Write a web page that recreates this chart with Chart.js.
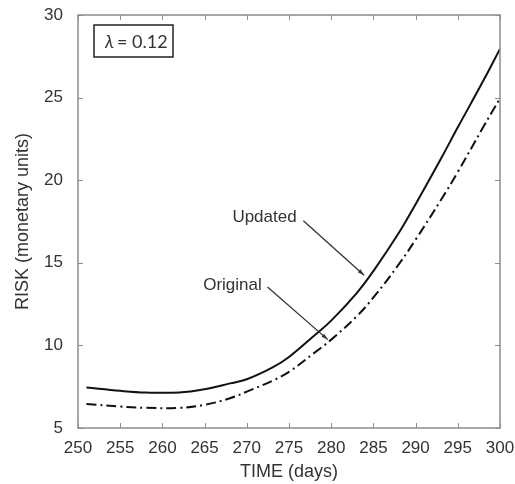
<!DOCTYPE html>
<html>
<head>
<meta charset="utf-8">
<script src="https://cdn.jsdelivr.net/npm/chart.js@4"></script>
<style>
  html, body { margin: 0; padding: 0; background: #fff; }
  #wrap { width: 515px; height: 484px; }
</style>
</head>
<body>
<div id="wrap"><canvas id="chart" width="515" height="484"></canvas></div>
<script>
const days = [251, 255, 258, 262, 265, 268, 270, 273, 275, 278, 280, 283, 285, 288, 290, 293, 295, 298, 300];
// Risk values (monetary units)
const updatedRisk = [7.45, 7.25, 7.15, 7.15, 7.35, 7.7, 7.95, 8.65, 9.3, 10.6, 11.5, 13.15, 14.5, 16.8, 18.55, 21.3, 23.2, 26.0, 27.95];
const originalRisk = [6.45, 6.3, 6.22, 6.22, 6.4, 6.8, 7.2, 7.85, 8.4, 9.55, 10.35, 11.75, 12.9, 14.9, 16.4, 18.8, 20.5, 23.2, 24.95];

const xTicks = [250, 255, 260, 265, 270, 275, 280, 285, 290, 295, 300];
const yTicks = [5, 10, 15, 20, 25, 30];

// Text labels with their pointer lines, in data units
const callouts = [
  { text: 'Updated', at: [272.1, 17.75], from: [276.7, 17.55], to: [283.9, 14.25] },
  { text: 'Original', at: [268.3, 13.66], from: [272.45, 13.54], to: [279.6, 10.35] }
];

const toPoints = (xs, ys) => xs.map((x, i) => ({ x: x, y: ys[i] }));

const axisColor = '#8c8c8c';
const textColor = '#333';
const font = '"Liberation Sans", Arial, sans-serif';

// frame, inward ticks, lambda box and callouts
const decorations = {
  id: 'decorations',
  afterDraw(chart) {
    const ctx = chart.ctx;
    const area = chart.chartArea;
    const xs = chart.scales.x;
    const ys = chart.scales.y;
    ctx.save();

    ctx.strokeStyle = axisColor;
    ctx.lineWidth = 1.5;
    ctx.strokeRect(area.left, area.top, area.right - area.left, area.bottom - area.top);

    ctx.lineWidth = 1;
    const tl = 5;
    ctx.beginPath();
    xTicks.forEach(v => {
      const px = Math.round(xs.getPixelForValue(v)) + 0.5;
      ctx.moveTo(px, area.bottom); ctx.lineTo(px, area.bottom - tl);
      ctx.moveTo(px, area.top); ctx.lineTo(px, area.top + tl);
    });
    yTicks.forEach(v => {
      const py = Math.round(ys.getPixelForValue(v)) + 0.5;
      ctx.moveTo(area.left, py); ctx.lineTo(area.left + tl, py);
      ctx.moveTo(area.right, py); ctx.lineTo(area.right - tl, py);
    });
    ctx.stroke();

    // lambda box in the upper left corner
    const bx = area.left + 16, by = area.top + 10, bw = 79, bh = 32;
    ctx.strokeStyle = '#222';
    ctx.lineWidth = 1.5;
    ctx.strokeRect(bx, by, bw, bh);
    ctx.fillStyle = textColor;
    ctx.textBaseline = 'middle';
    ctx.textAlign = 'left';
    ctx.font = 'italic 18px Lato';
    ctx.fillText('\u03bb', bx + 11, by + bh / 2 + 1);
    ctx.font = '18px Lato';
    ctx.fillText('= 0.12', bx + 23, by + bh / 2 + 1);

    // callout labels and pointers
    callouts.forEach(c => {
      ctx.font = '17px ' + font;
      ctx.textAlign = 'center';
      ctx.fillStyle = textColor;
      ctx.fillText(c.text, xs.getPixelForValue(c.at[0]), ys.getPixelForValue(c.at[1]));
      const x1 = xs.getPixelForValue(c.from[0]), y1 = ys.getPixelForValue(c.from[1]);
      const x2 = xs.getPixelForValue(c.to[0]), y2 = ys.getPixelForValue(c.to[1]);
      ctx.strokeStyle = '#333';
      ctx.lineWidth = 1.3;
      ctx.beginPath();
      ctx.moveTo(x1, y1); ctx.lineTo(x2, y2);
      ctx.stroke();
      const ang = Math.atan2(y2 - y1, x2 - x1);
      const hl = 7, hw = 0.3;
      ctx.fillStyle = '#333';
      ctx.beginPath();
      ctx.moveTo(x2, y2);
      ctx.lineTo(x2 - hl * Math.cos(ang - hw), y2 - hl * Math.sin(ang - hw));
      ctx.lineTo(x2 - hl * Math.cos(ang + hw), y2 - hl * Math.sin(ang + hw));
      ctx.closePath();
      ctx.fill();
    });

    ctx.restore();
  }
};

new Chart(document.getElementById('chart'), {
  type: 'line',
  data: {
    datasets: [
      {
        label: 'Updated',
        data: toPoints(days, updatedRisk),
        borderColor: '#111',
        borderWidth: 2,
        pointRadius: 0,
        tension: 0.4,
        fill: false
      },
      {
        label: 'Original',
        data: toPoints(days, originalRisk),
        borderColor: '#111',
        borderWidth: 2,
        borderDash: [10, 4, 2, 4],
        pointRadius: 0,
        tension: 0.4,
        fill: false
      }
    ]
  },
  options: {
    responsive: false,
    animation: false,
    layout: { padding: { top: 15, right: 15, left: 0, bottom: 0 } },
    plugins: {
      legend: { display: false },
      tooltip: { enabled: false }
    },
    scales: {
      x: {
        type: 'linear',
        min: 250,
        max: 300,
        afterBuildTicks: (scale) => { scale.ticks = xTicks.map(v => ({ value: v })); },
        afterFit: (scale) => {
          scale.height = 56;
          scale.paddingLeft = 0;
          scale.paddingRight = 0;
        },
        grid: { display: false, drawTicks: false },
        border: { display: false },
        ticks: {
          color: textColor,
          padding: 10,
          maxRotation: 0,
          font: { family: font, size: 17 }
        },
        title: {
          display: true,
          text: 'TIME (days)',
          color: textColor,
          padding: { top: 4, bottom: 1 },
          font: { family: font, size: 18 }
        }
      },
      y: {
        min: 5,
        max: 30,
        afterBuildTicks: (scale) => { scale.ticks = yTicks.map(v => ({ value: v })); },
        afterFit: (scale) => {
          scale.width = 78;
          scale.paddingTop = 0;
          scale.paddingBottom = 0;
        },
        grid: { display: false, drawTicks: false },
        border: { display: false },
        ticks: {
          color: textColor,
          padding: 15,
          font: { family: font, size: 17 }
        },
        title: {
          display: true,
          text: 'RISK (monetary units)',
          color: textColor,
          padding: { top: 12, bottom: 0 },
          font: { family: font, size: 18 }
        }
      }
    }
  },
  plugins: [decorations]
});
</script>
</body>
</html>
